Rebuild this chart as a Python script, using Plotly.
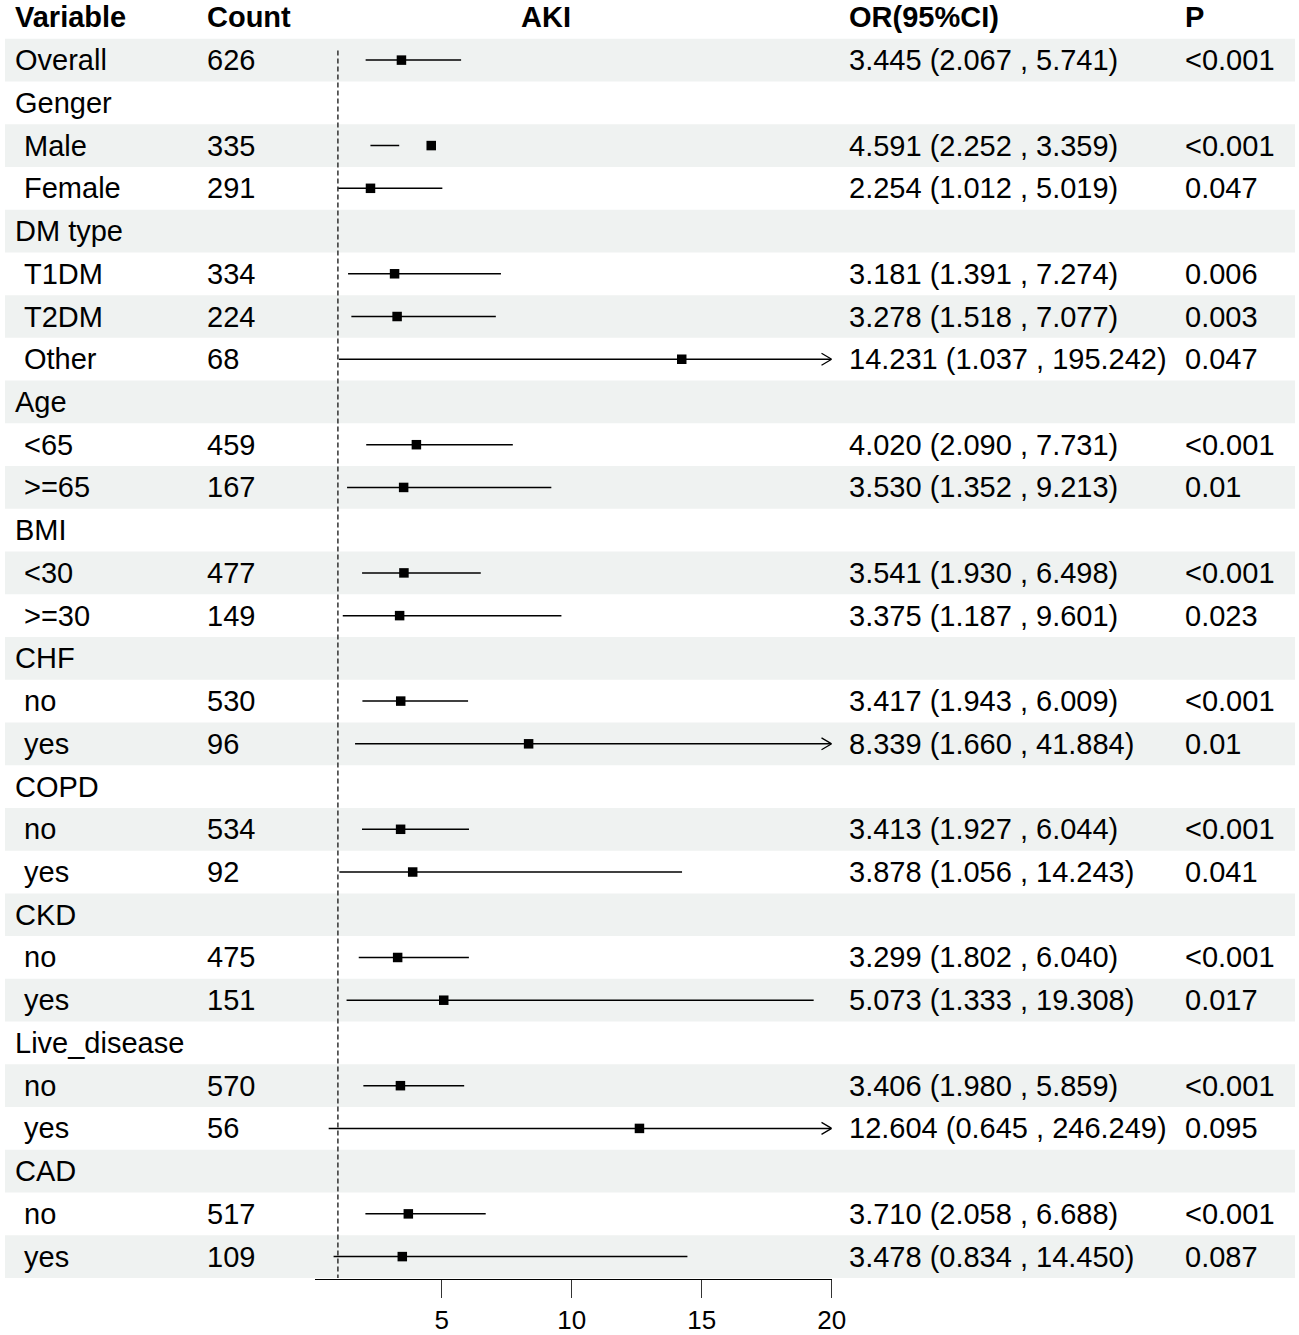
import plotly.graph_objects as go

# table rows (a leading space marks a subgroup row)
labels = ["Overall", "Genger", " Male", " Female", "DM type", " T1DM", " T2DM", " Other",
          "Age", " <65", " >=65", "BMI", " <30", " >=30", "CHF", " no", " yes",
          "COPD", " no", " yes", "CKD", " no", " yes", "Live_disease", " no", " yes",
          "CAD", " no", " yes"]
counts = ["626", "", "335", "291", "", "334", "224", "68", "", "459", "167", "", "477", "149",
          "", "530", "96", "", "534", "92", "", "475", "151", "", "570", "56", "", "517", "109"]
est = [3.445, None, 4.591, 2.254, None, 3.181, 3.278, 14.231, None, 4.020, 3.530, None,
       3.541, 3.375, None, 3.417, 8.339, None, 3.413, 3.878, None, 3.299, 5.073, None,
       3.406, 12.604, None, 3.710, 3.478]
lower = [2.067, None, 2.252, 1.012, None, 1.391, 1.518, 1.037, None, 2.090, 1.352, None,
         1.930, 1.187, None, 1.943, 1.660, None, 1.927, 1.056, None, 1.802, 1.333, None,
         1.980, 0.645, None, 2.058, 0.834]
upper = [5.741, None, 3.359, 5.019, None, 7.274, 7.077, 195.242, None, 7.731, 9.213, None,
         6.498, 9.601, None, 6.009, 41.884, None, 6.044, 14.243, None, 6.040, 19.308, None,
         5.859, 246.249, None, 6.688, 14.450]
pvals = ["<0.001", "", "<0.001", "0.047", "", "0.006", "0.003", "0.047", "", "<0.001", "0.01",
         "", "<0.001", "0.023", "", "<0.001", "0.01", "", "<0.001", "0.041", "", "<0.001",
         "0.017", "", "<0.001", "0.095", "", "<0.001", "0.087"]
headers = ["Variable", "Count", "AKI", "OR(95%CI)", "P"]
tick_vals = [5, 10, 15, 20]

XMIN, XMAX = 0.1, 20
W, H = 1315, 1335
FONT = "Liberation Sans, Arial, sans-serif"
FS = 29
ROW_H = 42.86
FIRST_ROW = 60.3    # px from top to centre of first row
AXIS_Y = 1282.7     # px from top to the x axis line
rows = list(range(1, len(labels) + 1))


def px(v):
    return v / W


fig = go.Figure()

# CI lines (clipped at the axis limit) and arrows for those beyond
lx, ly, ax_, ay_ = [], [], [], []
for k, lo, hi in zip(rows, lower, upper):
    if lo is None:
        continue
    lx += [max(lo, XMIN), min(hi, XMAX), None]
    ly += [k, k, None]
    if hi > XMAX:
        ax_ += [XMAX - 0.39, XMAX, XMAX - 0.39, None]
        ay_ += [k - 0.14, k, k + 0.14, None]

fig.add_trace(go.Scatter(x=lx, y=ly, mode="lines", line=dict(color="black", width=1.5),
                         hoverinfo="skip", cliponaxis=False))
fig.add_trace(go.Scatter(x=ax_, y=ay_, mode="lines", line=dict(color="black", width=1.3),
                         hoverinfo="skip", cliponaxis=False))
fig.add_trace(go.Scatter(
    x=[e for e in est if e is not None],
    y=[k for k, e in zip(rows, est) if e is not None],
    mode="markers", marker=dict(symbol="square", size=9.5, color="black"),
    cliponaxis=False, hoverinfo="skip",
))

shapes = []
for k in rows:
    if k % 2 == 1:
        shapes.append(dict(type="rect", xref="paper", yref="y", x0=px(5), x1=px(1309),
                           y0=k - 0.5, y1=k + 0.5, fillcolor="#eff2f1", line_width=0,
                           layer="below"))
shapes.append(dict(type="line", xref="x", yref="y", x0=1, x1=1, y0=0.776, y1=29.5,
                   line=dict(color="#222222", width=1.4, dash="5px,3px")))

annotations = []


def add_text(x, y, text, anchor="left"):
    annotations.append(dict(
        x=px(x), y=y, xref="paper", yref="y", text=text,
        showarrow=False, xanchor=anchor, yanchor="middle",
        font=dict(family=FONT, size=FS, color="black"),
    ))


head_x = [13.2, 207.5, 551.7, 856.4, 1195.6]
for h, x in zip(headers, head_x):
    add_text(x, 0, f"<b>{h}</b>", anchor="center" if h == "AKI" else "left")

for k, lab, c, e, lo, hi, p in zip(rows, labels, counts, est, lower, upper, pvals):
    add_text(22.3 if lab.startswith(" ") else 13.2, k, lab.strip())
    if c:
        add_text(207.5, k, c)
    if e is not None:
        add_text(856.4, k, f"{e:.3f} ({lo:.3f} , {hi:.3f})")
    if p:
        add_text(1195.6, k, p)

top_k = 1 - FIRST_ROW / ROW_H
bot_k = 1 + (AXIS_Y - FIRST_ROW) / ROW_H

fig.update_layout(
    width=W, height=H,
    margin=dict(l=0, r=0, t=0, b=0),
    paper_bgcolor="white", plot_bgcolor="white",
    showlegend=False,
    shapes=shapes,
    annotations=annotations,
    xaxis=dict(
        domain=[317.9 / W, 840.6 / W], range=[XMIN, XMAX],
        tickvals=tick_vals, ticks="outside", ticklen=18, tickwidth=1.4, tickcolor="#333333",
        showline=True, linecolor="black", linewidth=1.4,
        showgrid=False, zeroline=False, ticklabelstandoff=0,
        tickfont=dict(family=FONT, size=26, color="black"),
    ),
    yaxis=dict(
        domain=[1 - AXIS_Y / H, 1], range=[bot_k, top_k],
        visible=False, showgrid=False, zeroline=False,
    ),
)

# drop the default page margin so the figure sits flush in the window
fig.write_html(
    "out.html",
    config={"displayModeBar": False},
    post_script="document.body.style.margin='0';"
                "document.documentElement.style.overflow='hidden';",
)
